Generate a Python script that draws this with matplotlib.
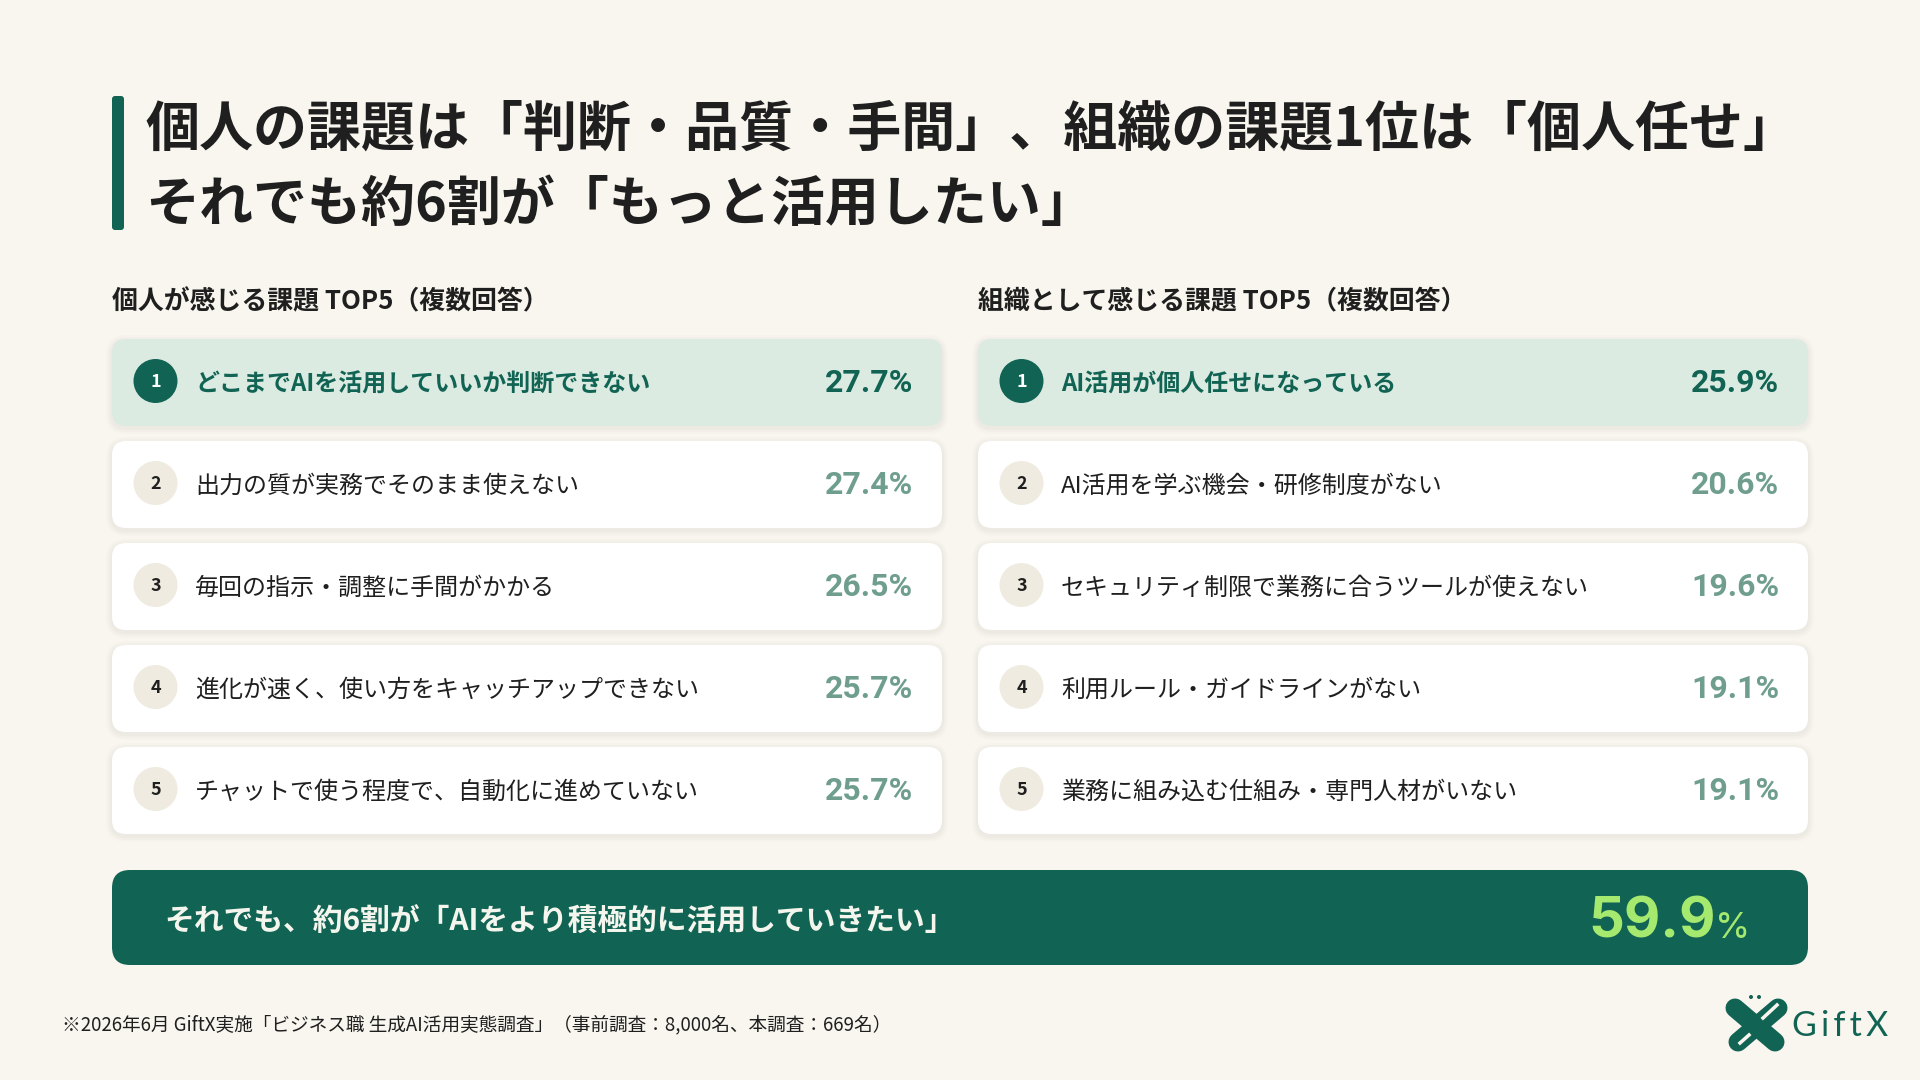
import matplotlib
matplotlib.use("Agg")
import matplotlib.pyplot as plt
from matplotlib.patches import FancyBboxPatch, Circle

plt.rcParams['font.family'] = ['Noto Sans CJK JP', 'DejaVu Sans']

title_lines = ["個人の課題は「判断・品質・手間」、組織の課題1位は「個人任せ」",
               "それでも約6割が「もっと活用したい」"]

personal_heading = "個人が感じる課題 TOP5（複数回答）"
personal_labels = ["どこまでAIを活用していいか判断できない",
                   "出力の質が実務でそのまま使えない",
                   "毎回の指示・調整に手間がかかる",
                   "進化が速く、使い方をキャッチアップできない",
                   "チャットで使う程度で、自動化に進めていない"]
personal_values = [27.7, 27.4, 26.5, 25.7, 25.7]

org_heading = "組織として感じる課題 TOP5（複数回答）"
org_labels = ["AI活用が個人任せになっている",
              "AI活用を学ぶ機会・研修制度がない",
              "セキュリティ制限で業務に合うツールが使えない",
              "利用ルール・ガイドラインがない",
              "業務に組み込む仕組み・専門人材がいない"]
org_values = [25.9, 20.6, 19.6, 19.1, 19.1]

banner_text = "それでも、約6割が「AIをより積極的に活用していきたい」"
banner_value = 59.9
footnote = "※2026年6月 GiftX実施「ビジネス職 生成AI活用実態調査」（事前調査：8,000名、本調査：669名）"

BG = "#F9F6EF"
GREEN = "#116353"
LIGHT_GREEN = "#DCEBE2"
MID_GREEN = "#6F9E8E"
BEIGE = "#EFEBE0"
DARK = "#1F1F1F"
LIME = "#A6E96F"


def px(size):
    # font sizes and line widths below are worked out in pixels
    return size * 0.72


fig = plt.figure(figsize=(19.2, 10.8), dpi=100, facecolor=BG)
ax = fig.add_axes([0, 0, 1, 1])
ax.set_xlim(0, 1920)
ax.set_ylim(1080, 0)
ax.axis("off")


def box(x, y, w, h, color, radius=14, shadow=False):
    if shadow:
        for grow, alpha in [(6, 0.012), (4, 0.018), (2, 0.025)]:
            ax.add_patch(FancyBboxPatch((x - grow, y - grow + 2), w + 2 * grow, h + 2 * grow,
                                        boxstyle=f"round,pad=0,rounding_size={radius + grow}",
                                        fc="#3a3020", ec="none", alpha=alpha))
    ax.add_patch(FancyBboxPatch((x, y), w, h, boxstyle=f"round,pad=0,rounding_size={radius}",
                                fc=color, ec="none"))


def panel(left, heading, labels, values):
    ax.text(left, 301.5, heading, fontsize=px(25.9), fontweight="bold", color=DARK,
            va="center", ha="left")
    for i, (label, value) in enumerate(zip(labels, values)):
        top = 339 + i * 102
        mid = top + 43
        first = i == 0
        box(left, top, 830, 87, LIGHT_GREEN if first else "white", shadow=True)
        ax.add_patch(Circle((left + 43.5, mid - 1), 22, fc=GREEN if first else BEIGE, ec="none"))
        ax.text(left + 43.5, mid, str(i + 1), fontsize=px(18), fontweight="bold",
                color="white" if first else DARK, ha="center", va="center")
        ax.text(left + 83, mid + 2.5, label, fontsize=px(24), color=GREEN if first else DARK,
                fontweight="bold" if first else "normal", ha="left", va="center")
        ax.text(left + 801, mid + 1, f"{value}%", fontsize=px(32), fontweight="bold",
                family=["Roboto", "DejaVu Sans"],
                color=GREEN if first else MID_GREEN, ha="right", va="center")


# title
box(112, 96, 12, 134, GREEN, radius=3)
ax.text(145, 130, title_lines[0], fontsize=px(54), fontweight="bold", color=DARK, va="center", ha="left")
ax.text(145, 205.5, title_lines[1], fontsize=px(54), fontweight="bold", color=DARK, va="center", ha="left")

panel(112, personal_heading, personal_labels, personal_values)
panel(978, org_heading, org_labels, org_values)

# banner
box(112, 870, 1696, 95, GREEN, radius=18)
ax.text(164, 922, banner_text, fontsize=px(29.8), fontweight="bold", color="#F4F6EE", va="center", ha="left")
ax.text(1716, 938, f"{banner_value}", fontsize=px(56), fontweight="bold", family=["Inter", "DejaVu Sans"],
        color=LIME, va="baseline", ha="right")
ax.text(1750, 938, "%", fontsize=px(36), family=["Inter", "DejaVu Sans"], color=LIME, va="baseline", ha="right")

ax.text(62, 1025, footnote, fontsize=px(18.7), color=DARK, va="center", ha="left")

# logo
ax.plot([1735, 1775], [1008, 1042], color=GREEN, lw=px(19), solid_capstyle="round")
ax.plot([1778, 1738], [1008, 1042], color=GREEN, lw=px(19), solid_capstyle="round")
ax.plot([1763, 1777], [1018, 1005], color=BG, lw=px(3.5))
ax.plot([1740, 1749], [1043, 1035], color=BG, lw=px(3.5))
ax.add_patch(Circle((1751, 997), 2, fc=GREEN, ec="none"))
ax.add_patch(Circle((1759, 997), 2, fc=GREEN, ec="none"))
ax.text(1792, 1026, "G\u2009i\u2009f\u2009t\u2009X", fontsize=px(34), family=["Lato", "DejaVu Sans"],
        color=GREEN, va="center", ha="left")

fig.savefig("out.png", dpi=100, facecolor=BG)
